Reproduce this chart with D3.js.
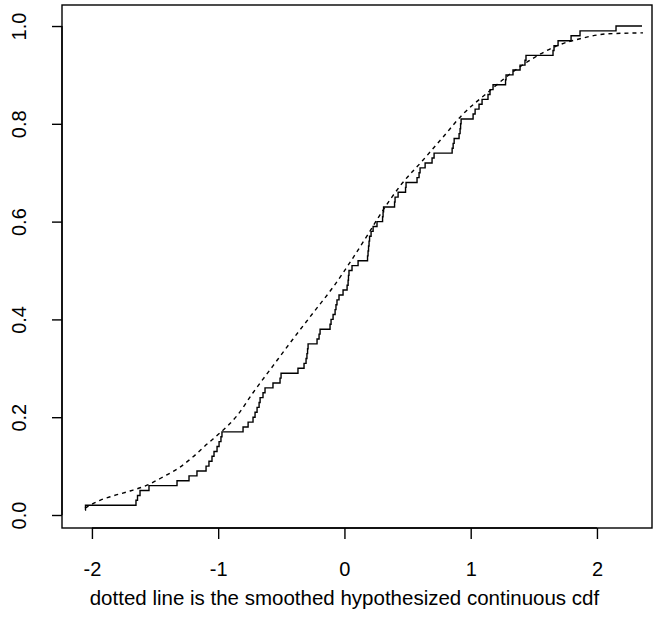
<!DOCTYPE html>
<html lang="en">
<head>
<meta charset="UTF-8">
<title>ecdf</title>
<script src="https://d3js.org/d3.v7.min.js"></script>
<style>
  body { margin: 0; background: #fff; }
  svg text { font-family: "Liberation Sans", Arial, sans-serif; fill: #000; }
  .step { fill: none; stroke: #000; stroke-width: 1.4px; }
  .smooth { fill: none; stroke: #000; stroke-width: 1.4px; stroke-dasharray: 4,4; }
</style>
</head>
<body>
<div id="plot"></div>
<script>
// empirical cdf: jump locations and the value after each jump
var ecdfX = [-2.055, -2.051, -1.651, -1.639, -1.619, -1.548, -1.326, -1.231, -1.168, -1.096,
             -1.073, -1.049, -1.033, -1.009, -0.993, -0.978, -0.970, -0.803, -0.763, -0.724,
             -0.708, -0.692, -0.676, -0.668, -0.645, -0.629, -0.566, -0.510, -0.502, -0.368,
             -0.320, -0.304, -0.297, -0.292, -0.288, -0.217, -0.201, -0.193, -0.114, -0.106,
             -0.090, -0.074, -0.067, -0.059, -0.043, -0.011, 0.021, 0.029, 0.032, 0.036,
             0.060, 0.108, 0.183, 0.187, 0.191, 0.195, 0.199, 0.211, 0.227, 0.258,
             0.302, 0.306, 0.310, 0.397, 0.401, 0.425, 0.484, 0.488, 0.575, 0.591,
             0.599, 0.639, 0.694, 0.710, 0.853, 0.861, 0.869, 0.908, 0.916, 0.920,
             0.924, 1.019, 1.035, 1.066, 1.090, 1.137, 1.153, 1.177, 1.276, 1.280,
             1.335, 1.391, 1.430, 1.438, 1.652, 1.660, 1.692, 1.795, 1.866, 2.151];
var ecdfY = [0.01, 0.02, 0.03, 0.04, 0.05, 0.06, 0.07, 0.08, 0.09, 0.10,
             0.11, 0.12, 0.13, 0.14, 0.15, 0.16, 0.17, 0.18, 0.19, 0.20,
             0.21, 0.22, 0.23, 0.24, 0.25, 0.26, 0.27, 0.28, 0.29, 0.30,
             0.31, 0.32, 0.33, 0.34, 0.35, 0.36, 0.37, 0.38, 0.39, 0.40,
             0.41, 0.42, 0.43, 0.44, 0.45, 0.46, 0.47, 0.48, 0.49, 0.50,
             0.51, 0.52, 0.53, 0.54, 0.55, 0.56, 0.57, 0.58, 0.59, 0.60,
             0.61, 0.62, 0.63, 0.64, 0.65, 0.66, 0.67, 0.68, 0.69, 0.70,
             0.71, 0.72, 0.73, 0.74, 0.75, 0.76, 0.77, 0.78, 0.79, 0.80,
             0.81, 0.82, 0.83, 0.84, 0.85, 0.86, 0.87, 0.88, 0.89, 0.90,
             0.91, 0.92, 0.93, 0.94, 0.95, 0.96, 0.97, 0.98, 0.99, 1.00];
var ecdfEnd = 2.357;

// smoothed hypothesized cdf (dotted)
var smoothX = [-2.055, -1.936, -1.833, -1.698, -1.563, -1.436, -1.302, -1.199, -1.088, -0.985,
               -0.851, -0.724, -0.566, -0.407, -0.249, -0.090, 0.068, 0.179, 0.282, 0.441,
               0.623, 0.781, 0.939, 1.130, 1.312, 1.494, 1.708, 1.866, 2.080, 2.365];
var smoothY = [0.014, 0.030, 0.039, 0.049, 0.061, 0.078, 0.098, 0.119, 0.145, 0.168,
               0.203, 0.250, 0.305, 0.360, 0.413, 0.466, 0.526, 0.571, 0.614, 0.673,
               0.726, 0.773, 0.820, 0.863, 0.902, 0.934, 0.962, 0.974, 0.984, 0.986];

var xTicks = [-2, -1, 0, 1, 2];
var yTicks = [0.0, 0.2, 0.4, 0.6, 0.8, 1.0];
var xTitle = "dotted line is the smoothed hypothesized continuous cdf";

var width = 653, height = 635;
var box = { left: 62, right: 652, top: 5, bottom: 528 };

var x = d3.scaleLinear().domain([-2.237, 2.436]).range([box.left, box.right]);
var y = d3.scaleLinear().domain([-0.0266, 1.043]).range([box.bottom, box.top]);

var svg = d3.select("#plot").append("svg")
    .attr("width", width)
    .attr("height", height);

// step function
var stepPts = ecdfX.map(function(d, i) { return [d, ecdfY[i]]; });
stepPts.push([ecdfEnd, ecdfY[ecdfY.length - 1]]);
var stepLine = d3.line()
    .x(function(d) { return x(d[0]); })
    .y(function(d) { return y(d[1]); })
    .curve(d3.curveStepAfter);
svg.append("path").datum(stepPts).attr("class", "step").attr("d", stepLine);

// dotted smooth cdf
var smoothPts = smoothX.map(function(d, i) { return [d, smoothY[i]]; });
var smoothLine = d3.line()
    .x(function(d) { return x(d[0]); })
    .y(function(d) { return y(d[1]); })
    .curve(d3.curveMonotoneX);
svg.append("path").datum(smoothPts).attr("class", "smooth").attr("d", smoothLine);

// box
svg.append("rect")
    .attr("x", box.left).attr("y", box.top)
    .attr("width", box.right - box.left).attr("height", box.bottom - box.top)
    .attr("fill", "none").attr("stroke", "#000").attr("stroke-width", 1.4);

// axes (R style: plain hyphen for minus)
var xAxis = d3.axisBottom(x).tickValues(xTicks).tickSize(11).tickPadding(23)
    .tickFormat(function(d) { return String(d); });
var gx = svg.append("g").attr("transform", "translate(0," + box.bottom + ")").call(xAxis);
gx.select(".domain").attr("d", "M" + x(-2) + ",0H" + x(2));

var yAxis = d3.axisLeft(y).tickValues(yTicks).tickSize(10).tickFormat(d3.format(".1f"));
var gy = svg.append("g").attr("transform", "translate(" + box.left + ",0)").call(yAxis);
gy.select(".domain").attr("d", "M0," + y(0) + "V" + y(1));
gy.selectAll(".tick text")
    .attr("transform", "rotate(-90)")
    .attr("x", 0).attr("y", -36)
    .attr("dy", "0")
    .style("text-anchor", "middle");

svg.selectAll(".domain, .tick line").attr("stroke", "#000").attr("stroke-width", 1.4);
svg.selectAll(".tick text").style("font-size", "20px").style("fill", "#000");

svg.append("text")
    .attr("x", (x(-2) + x(2)) / 2)
    .attr("y", 605)
    .attr("text-anchor", "middle")
    .style("font-size", "20.5px")
    .text(xTitle);
</script>
</body>
</html>
